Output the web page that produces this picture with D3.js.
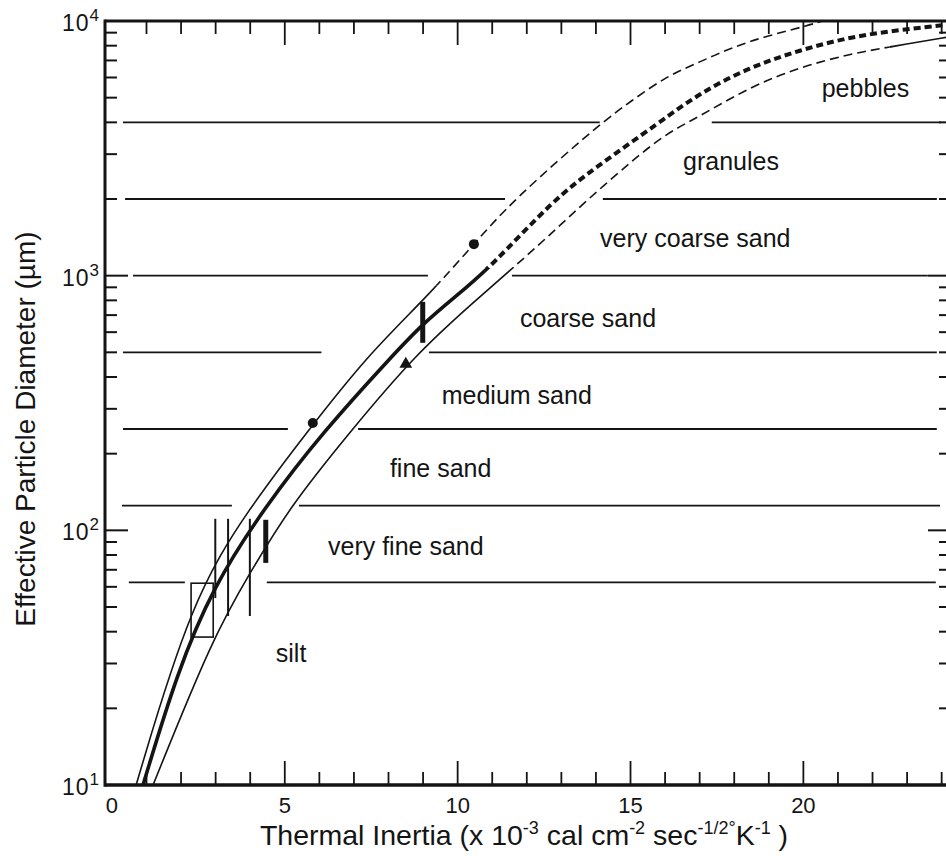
<!DOCTYPE html>
<html>
<head>
<meta charset="utf-8">
<script src="https://cdn.jsdelivr.net/npm/d3@7"></script>
<style>
body { margin: 0; background: #fff; }
text { font-family: Arial, "Liberation Sans", Helvetica, sans-serif; fill: #141414; }
</style>
</head>
<body>
<svg id="chart" width="946" height="862"></svg>
<script>
// grain size class boundaries (µm), drawn as lines broken where the curves pass
const boundaries = [4000, 2000, 1000, 500, 250, 125, 62.5]
const lineStart = [0.32, 0.38, 0.61, 0.32, 0.32, 0.29, 0.49]
const gapStart = [14.11, 11.37, 9.14, 6.06, 5.09, 3.47, 2.11]
const gapEnd = [17.35, 14.20, 11.57, 9.17, 7.12, 5.41, 4.48]
const lineEnd = [23.97, 23.86, 23.60, 23.86, 23.86, 23.95, 23.83]

// class names and where they sit (thermal inertia, diameter)
const classNames = ['pebbles', 'granules', 'very coarse sand', 'coarse sand', 'medium sand', 'fine sand', 'very fine sand', 'silt']
const labelTI = [20.53, 16.52, 14.12, 11.80, 9.54, 8.04, 6.25, 4.74]
const labelD = [5031, 2600, 1296, 628, 313, 162, 80, 30.4]

// curves: [thermal inertia, diameter µm]
const upperCurve = [[0.70, 10], [2.29, 53.3], [3.97, 122.4], [5.64, 243], [7.40, 488], [9.11, 824], [10.47, 1330], [11.60, 1980], [14.17, 4010], [15.07, 4900], [16.05, 6080], [17.00, 6900], [17.96, 7900], [18.94, 8730], [20.19, 9640], [20.54, 10000]]
const midCurve = [[0.90, 10], [1.88, 27.5], [2.92, 59.9], [4.43, 124], [6.10, 243], [8.13, 488], [8.99, 646], [9.92, 824], [10.93, 1072], [12.76, 1980], [13.97, 2648], [15.85, 4010], [17.00, 5210], [18.45, 6590], [19.90, 7690], [21.34, 8650], [22.79, 9230], [24.27, 9700]]
const lowerCurve = [[1.19, 10], [2.92, 38.1], [3.99, 67.9], [5.15, 124], [6.88, 243], [8.76, 488], [10.53, 802], [11.60, 1072], [12.67, 1446], [13.74, 1980], [15.07, 2845], [16.05, 3630], [16.92, 4160], [18.45, 5510], [19.90, 6590], [21.34, 7420], [22.50, 7910], [24.27, 8690]]
// diameter above which each curve turns dashed; the lower one is solid again past this TI
const dashedFrom = [918, 1072, 1072]
const lowerSolidAgain = 22.5

// measurements
const dots = [[10.47, 1330], [5.81, 264]]
const triangles = [[8.50, 450]]
const thinBars = [[2.99, 54.2, 111], [3.36, 46.1, 111], [3.99, 46.1, 111]]
const thickBars = [[4.45, 74.5, 110], [8.99, 545, 789]]
const boxTI = [2.29, 2.93]
const boxD = [38.1, 62]

const xTicks = [0, 5, 10, 15, 20]
const yTicks = [10, 100, 1000, 10000]
const yExps = ['1', '2', '3', '4']

const svg = d3.select('#chart')
const mLeft = 105, mRight = 951, mTop = 21, mBottom = 785
const ink = '#141414'

const x = d3.scaleLinear().domain([-0.2, 24.27]).range([mLeft, mRight])
const y = d3.scaleLog().domain([10, 10000]).range([mBottom, mTop])

const line = d3.line().x(d => x(d[0])).y(d => y(d[1])).curve(d3.curveBasis)

// class boundary lines
boundaries.forEach((b, i) => {
    let segs = [[lineStart[i], gapStart[i]], [gapEnd[i], lineEnd[i]]]
    svg.selectAll(null).data(segs).enter().append('line')
        .attr('x1', d => x(d[0])).attr('x2', d => x(d[1]))
        .attr('y1', y(b)).attr('y2', y(b))
        .attr('stroke', ink).attr('stroke-width', 1.8)
})

// curves: each drawn twice, clipped into its solid and dashed parts
const defs = svg.append('defs')
function addClip(id, rects) {
    let cp = defs.append('clipPath').attr('id', id)
    rects.forEach(r => cp.append('rect').attr('x', r[0]).attr('y', r[1]).attr('width', r[2]).attr('height', r[3]))
}
function drawCurve(data, width, dash, clip) {
    svg.append('path').datum(data)
        .attr('d', line)
        .attr('fill', 'none')
        .attr('stroke', ink)
        .attr('stroke-width', width)
        .attr('stroke-dasharray', dash)
        .attr('clip-path', `url(#${clip})`)
}
const curves = [upperCurve, midCurve, lowerCurve]
const widths = [1.6, 3.6, 1.6]
const dashes = ['9,5', '7,4', '9,5']
curves.forEach((c, i) => {
    let yb = y(dashedFrom[i])
    let solidRects = [[0, yb, 1000, 900]]
    let dashRects = [[0, 0, 1000, yb]]
    if (i === 2) {
        let xb = x(lowerSolidAgain)
        solidRects.push([xb, 0, 200, yb])
        dashRects = [[0, 0, xb, yb]]
    }
    addClip('solid' + i, solidRects)
    addClip('dash' + i, dashRects)
    drawCurve(c, widths[i], null, 'solid' + i)
    drawCurve(c, i === 1 ? 4 : widths[i], dashes[i], 'dash' + i)
})

// box and bars
svg.append('rect')
    .attr('x', x(boxTI[0])).attr('y', y(boxD[1]))
    .attr('width', x(boxTI[1]) - x(boxTI[0]))
    .attr('height', y(boxD[0]) - y(boxD[1]))
    .attr('fill', 'none').attr('stroke', ink).attr('stroke-width', 1.6)

svg.selectAll('.thinbar').data(thinBars).enter().append('line')
    .attr('class', 'thinbar')
    .attr('x1', d => x(d[0])).attr('x2', d => x(d[0]))
    .attr('y1', d => y(d[1])).attr('y2', d => y(d[2]))
    .attr('stroke', ink).attr('stroke-width', 2)

svg.selectAll('.thickbar').data(thickBars).enter().append('line')
    .attr('class', 'thickbar')
    .attr('x1', d => x(d[0])).attr('x2', d => x(d[0]))
    .attr('y1', d => y(d[1])).attr('y2', d => y(d[2]))
    .attr('stroke', ink).attr('stroke-width', 5)

svg.selectAll('.dot').data(dots).enter().append('circle')
    .attr('class', 'dot')
    .attr('cx', d => x(d[0])).attr('cy', d => y(d[1]))
    .attr('r', 5).attr('fill', ink)

svg.selectAll('.tri').data(triangles).enter().append('path')
    .attr('class', 'tri')
    .attr('transform', d => `translate(${x(d[0])},${y(d[1])})`)
    .attr('d', d3.symbol(d3.symbolTriangle, 70))
    .attr('fill', ink)

// class labels
svg.selectAll('.cls').data(classNames).enter().append('text')
    .attr('class', 'cls')
    .attr('x', (d, i) => x(labelTI[i]))
    .attr('y', (d, i) => y(labelD[i]))
    .attr('font-size', 25)
    .text(d => d)

// frame
svg.append('line').attr('x1', mLeft).attr('x2', mRight).attr('y1', mTop).attr('y2', mTop)
    .attr('stroke', ink).attr('stroke-width', 3)
svg.append('line').attr('x1', mLeft).attr('x2', mRight).attr('y1', mBottom).attr('y2', mBottom)
    .attr('stroke', ink).attr('stroke-width', 3.5)
svg.append('line').attr('x1', mLeft).attr('x2', mLeft).attr('y1', mTop - 1.5).attr('y2', mBottom + 1.7)
    .attr('stroke', ink).attr('stroke-width', 3)
svg.append('line').attr('x1', mRight).attr('x2', mRight).attr('y1', mTop).attr('y2', mBottom)
    .attr('stroke', ink).attr('stroke-width', 3)

// x ticks, top and bottom
let xMinor = d3.range(1, 25).filter(v => v % 5 !== 0)
let xMajor = xTicks.filter(v => v > 0)
function xTickMarks(vals, len) {
    svg.selectAll(null).data(vals).enter().append('line')
        .attr('x1', d => x(d)).attr('x2', d => x(d))
        .attr('y1', mBottom).attr('y2', mBottom - len)
        .attr('stroke', ink).attr('stroke-width', 1.8)
    svg.selectAll(null).data(vals).enter().append('line')
        .attr('x1', d => x(d)).attr('x2', d => x(d))
        .attr('y1', mTop).attr('y2', mTop + len)
        .attr('stroke', ink).attr('stroke-width', 1.8)
}
xTickMarks(xMinor, 13)
xTickMarks(xMajor, 24)

svg.selectAll('.xlab').data(xTicks).enter().append('text')
    .attr('class', 'xlab')
    .attr('x', d => x(d)).attr('y', 813)
    .attr('text-anchor', 'middle')
    .attr('font-size', 22)
    .text(d => d)

// y ticks, left and right
let yMinor = []
yTicks.slice(0, 3).forEach(p => { for (let k = 2; k <= 9; k++) yMinor.push(p * k) })
function yTickMarks(vals, len) {
    svg.selectAll(null).data(vals).enter().append('line')
        .attr('x1', mLeft).attr('x2', mLeft + len)
        .attr('y1', d => y(d)).attr('y2', d => y(d))
        .attr('stroke', ink).attr('stroke-width', 2)
    svg.selectAll(null).data(vals).enter().append('line')
        .attr('x1', mRight).attr('x2', mRight - len)
        .attr('y1', d => y(d)).attr('y2', d => y(d))
        .attr('stroke', ink).attr('stroke-width', 2)
}
yTickMarks(yMinor, 12)
yTickMarks(yTicks, 23)

let ylab = svg.selectAll('.ylab').data(yTicks).enter().append('text')
    .attr('class', 'ylab')
    .attr('x', 99).attr('y', d => y(d) + 10)
    .attr('text-anchor', 'end')
    .attr('font-size', 23)
ylab.append('tspan').attr('letter-spacing', 1).text('10')
ylab.append('tspan').attr('font-size', 17).attr('dy', -10).text((d, i) => yExps[i])

// axis titles
svg.append('text')
    .attr('transform', 'translate(35,429) rotate(-90)')
    .attr('text-anchor', 'middle')
    .attr('font-size', 28)
    .text('Effective Particle Diameter (µm)')

let xt = svg.append('text')
    .attr('x', 524).attr('y', 845)
    .attr('text-anchor', 'middle')
    .attr('font-size', 28.5)
let parts = [['Thermal Inertia (x 10', 0], ['-3', 1], [' cal cm', 0], ['-2', 1], [' sec', 0], ['-1/2°', 1], ['K', 0], ['-1', 1], [' )', 0]]
let raised = false
parts.forEach(p => {
    let t = xt.append('tspan').text(p[0])
    if (p[1] && !raised) { t.attr('font-size', 18).attr('dy', -11); raised = true }
    else if (p[1]) { t.attr('font-size', 18) }
    else if (raised) { t.attr('dy', 11); raised = false }
})
</script>
</body>
</html>
